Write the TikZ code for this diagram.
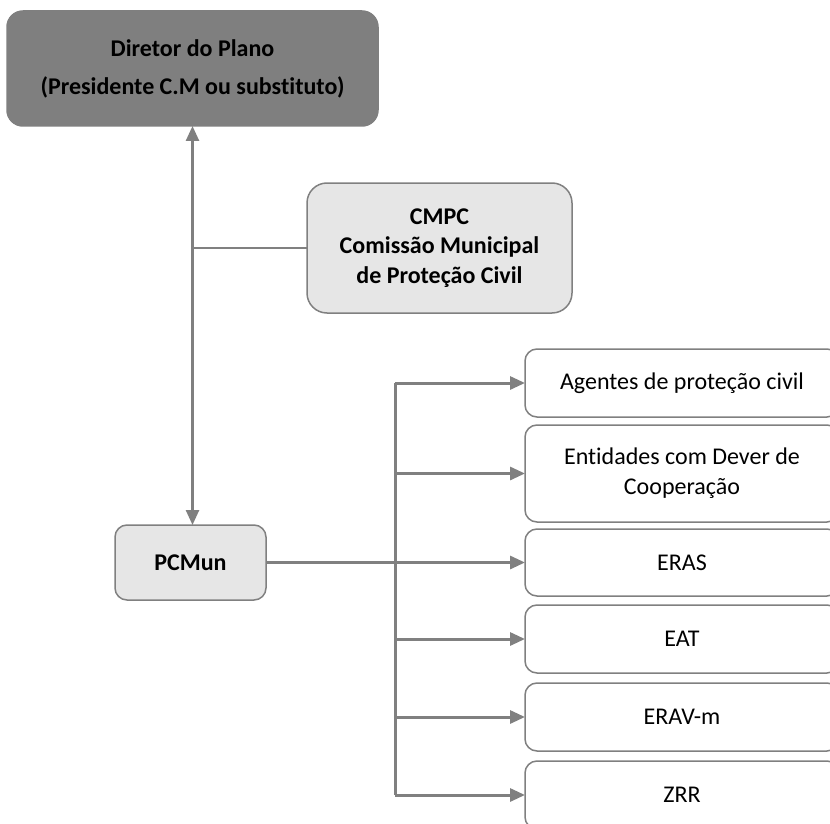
\documentclass[tikz,border=0pt]{standalone}
\usepackage{fontspec}
\setmainfont{Carlito}[Ligatures={NoCommon}]
\usetikzlibrary{arrows.meta}
\definecolor{linegray}{HTML}{808080}
\definecolor{darkbox}{HTML}{7F7F7F}
\definecolor{lightbox}{HTML}{E6E6E6}
\tikzset{
  basebox/.style={draw=linegray, line width=1.5pt, inner sep=0pt, outer sep=0pt,
    align=center, font=\fontsize{24}{30}\selectfont},
  headbox/.style={basebox, fill=darkbox, draw=darkbox, rounded corners=16pt,
    font=\fontsize{24}{38}\selectfont\bfseries},
  greybox/.style={basebox, fill=lightbox, rounded corners=20pt,
    font=\fontsize{24}{29.5}\selectfont\bfseries},
  unitbox/.style={basebox, fill=white, rounded corners=12pt,
    minimum width=314pt},
  link/.style={draw=linegray, line width=3pt},
  tip/.style={-{Triangle[length=15pt,width=13pt]}},
}
\begin{document}
\begin{tikzpicture}[x=1pt,y=-1pt]
\clip (0,0) rectangle (830,824);
\fill[white] (0,0) rectangle (830,824);

% command structure
\node[headbox, minimum width=371pt, minimum height=115pt] (dir) at (192.5,68.5)
  {Diretor do Plano\\(Presidente C.M ou substituto)};
\node[greybox, minimum width=265pt, minimum height=130pt] (cmpc) at (439.5,248)
  {CMPC\\Comissão Municipal\\de Proteção Civil};
\node[greybox, rounded corners=12pt, minimum width=151pt, minimum height=75pt] (pcm) at (190.5,562.5)
  {PCMun};

% operational units
\node[unitbox, minimum height=68pt] (ag)  at (682,383)   {Agentes de proteção civil};
\node[unitbox, minimum height=97pt] (ent) at (682,473.5) {Entidades com Dever de\\Cooperação};
\node[unitbox, minimum height=67pt] (eras) at (682,562.5) {ERAS};
\node[unitbox, minimum height=68pt] (eat)  at (682,639)   {EAT};
\node[unitbox, minimum height=68pt] (erav) at (682,717)   {ERAV-m};
\node[unitbox, minimum height=68pt] (zrr)  at (682,795)   {ZRR};

% links
\draw[link, line width=2.5pt, {Triangle[length=15pt,width=13pt]}-{Triangle[length=15pt,width=13pt]}]
  (dir.south) -- (dir.south |- pcm.north);
\draw[draw=linegray, line width=1.5pt] (cmpc.west) -- (cmpc.west -| dir.south);

\coordinate (br) at (395,0);
\draw[link] (br |- ag.west) -- (br |- zrr.west);
\draw[link, line width=3.5pt] (pcm.east) -- (br |- pcm.east);
\draw[link, tip] (br |- eras.west) -- (eras.west);
\foreach \b in {ag,ent,eat,erav,zrr}
  \draw[link, tip] (br |- \b.west) -- (\b.west);
\end{tikzpicture}
\end{document}
